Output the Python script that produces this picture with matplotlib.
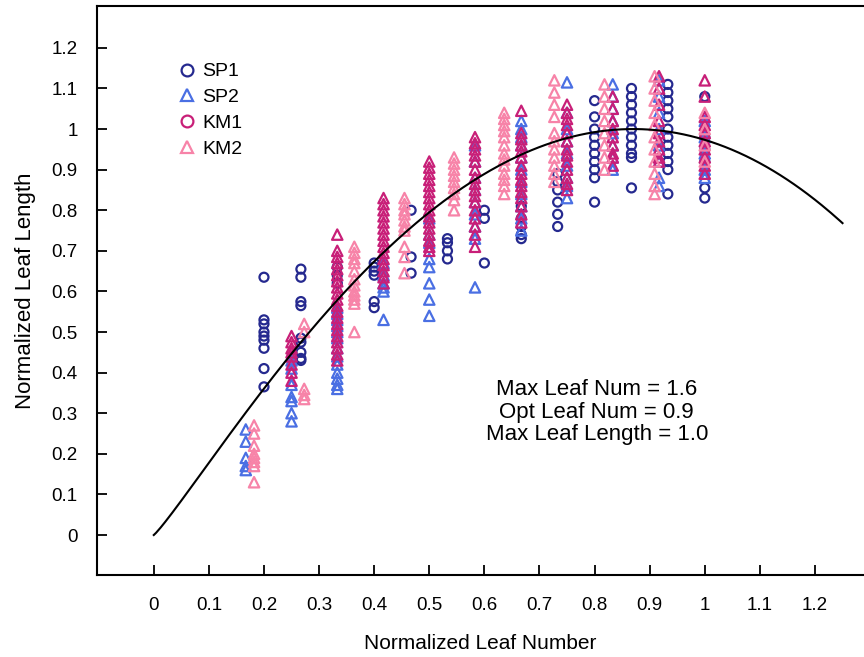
import numpy as np
import matplotlib
matplotlib.use('Agg')
import matplotlib.pyplot as plt
from matplotlib.lines import Line2D

plt.rcParams['font.family'] = ['Liberation Sans', 'DejaVu Sans']

# 各组叶位（归一化叶数）与对应的归一化叶长
sp1_x = [0.2, 0.267, 0.333, 0.4, 0.467, 0.533, 0.6, 0.667, 0.733, 0.8, 0.867, 0.933, 1.0]
sp1_y = [
    [0.635, 0.53, 0.52, 0.50, 0.49, 0.48, 0.46, 0.41, 0.365],
    [0.655, 0.635, 0.575, 0.565, 0.485, 0.475, 0.45, 0.435, 0.43],
    [0.66, 0.64, 0.62, 0.55],
    [0.67, 0.66, 0.65, 0.64, 0.575, 0.56],
    [0.80, 0.685, 0.645],
    [0.73, 0.72, 0.70, 0.68],
    [0.80, 0.78, 0.67],
    [0.81, 0.78, 0.76, 0.74, 0.73],
    [0.89, 0.87, 0.85, 0.82, 0.79, 0.76],
    [1.07, 1.03, 1.0, 0.98, 0.96, 0.94, 0.92, 0.90, 0.88, 0.82],
    [1.10, 1.08, 1.06, 1.04, 1.02, 1.0, 0.98, 0.96, 0.94, 0.93, 0.855],
    [1.11, 1.09, 1.07, 1.05, 1.03, 1.0, 0.98, 0.96, 0.94, 0.92, 0.90, 0.84],
    [1.08, 0.98, 0.95, 0.92, 0.855, 0.83],
]

sp2_x = [0.167, 0.25, 0.333, 0.417, 0.5, 0.583, 0.667, 0.75, 0.833, 0.917, 1.0]
sp2_y = [
    [0.26, 0.23, 0.19, 0.17, 0.16],
    [0.43, 0.41, 0.37, 0.34, 0.33, 0.30, 0.28],
    [0.56, 0.545, 0.53, 0.515, 0.50, 0.485, 0.46, 0.44, 0.42, 0.40, 0.385, 0.37, 0.36],
    [0.67, 0.64, 0.62, 0.61, 0.60, 0.53],
    [0.78, 0.74, 0.72, 0.68, 0.66, 0.62, 0.58, 0.54],
    [0.96, 0.92, 0.88, 0.85, 0.82, 0.79, 0.76, 0.73, 0.61],
    [1.02, 1.0, 0.98, 0.96, 0.93, 0.90, 0.87, 0.84, 0.81, 0.78, 0.75],
    [1.115, 1.04, 1.0, 0.97, 0.94, 0.91, 0.88, 0.86, 0.83],
    [1.11, 1.08, 1.05, 1.02, 0.99, 0.96, 0.93, 0.90],
    [1.12, 1.08, 1.04, 1.0, 0.96, 0.92, 0.88, 0.86],
    [1.02, 0.98, 0.94, 0.90, 0.88],
]

km1_x = [0.25, 0.333, 0.417, 0.5, 0.583, 0.667, 0.75, 0.833, 0.917, 1.0]
km1_y = [
    [0.49, 0.475, 0.46, 0.45, 0.44, 0.42, 0.40, 0.38],
    [0.74, 0.70, 0.685, 0.67, 0.655, 0.64, 0.625, 0.61, 0.595, 0.58, 0.565, 0.55, 0.535,
     0.52, 0.505, 0.49, 0.475, 0.46, 0.445, 0.43],
    [0.83, 0.815, 0.80, 0.785, 0.77, 0.755, 0.74, 0.725, 0.71, 0.695, 0.68, 0.665, 0.65, 0.635, 0.62],
    [0.92, 0.905, 0.89, 0.875, 0.86, 0.845, 0.83, 0.815, 0.80, 0.785, 0.77, 0.755, 0.74, 0.725, 0.71, 0.70],
    [0.98, 0.965, 0.95, 0.935, 0.92, 0.90, 0.88, 0.865, 0.85, 0.835, 0.82, 0.80, 0.78, 0.76, 0.74, 0.71],
    [1.045, 0.99, 0.975, 0.96, 0.945, 0.93, 0.91, 0.89, 0.875, 0.86, 0.845, 0.83, 0.81, 0.79, 0.77],
    [1.06, 1.04, 1.025, 1.01, 0.99, 0.97, 0.95, 0.935, 0.92, 0.90, 0.88, 0.865, 0.85],
    [1.08, 1.05, 1.02, 1.0, 0.98, 0.96, 0.94, 0.93, 0.91],
    [1.13, 1.10, 1.06, 1.02, 0.99, 0.97, 0.95, 0.93, 0.92],
    [1.12, 1.08, 1.03, 1.01, 0.99, 0.97, 0.95, 0.93, 0.91, 0.89],
]

km2_x = [0.182, 0.273, 0.364, 0.455, 0.545, 0.636, 0.727, 0.818, 0.909, 1.0]
km2_y = [
    [0.27, 0.25, 0.22, 0.20, 0.19, 0.18, 0.17, 0.13],
    [0.52, 0.50, 0.36, 0.345, 0.335],
    [0.71, 0.695, 0.68, 0.67, 0.65, 0.63, 0.615, 0.60, 0.59, 0.58, 0.57, 0.50],
    [0.83, 0.815, 0.80, 0.79, 0.775, 0.76, 0.75, 0.71, 0.685, 0.645],
    [0.93, 0.915, 0.90, 0.885, 0.87, 0.855, 0.84, 0.825, 0.80],
    [1.04, 1.025, 1.01, 0.995, 0.98, 0.96, 0.94, 0.925, 0.91, 0.89, 0.875, 0.86, 0.84],
    [1.12, 1.09, 1.06, 1.03, 0.99, 0.97, 0.95, 0.93, 0.91, 0.89, 0.87],
    [1.11, 1.08, 1.05, 1.02, 0.99, 0.96, 0.93, 0.90],
    [1.13, 1.10, 1.07, 1.04, 1.01, 0.98, 0.95, 0.92, 0.89, 0.86, 0.84],
    [1.04, 1.0, 0.96, 0.92],
]

# 拟合曲线参数（beta 函数）
curve_lmax = 1.65
curve_lopt = 0.87
curve_ymax = 1.0

xticks = [0, 0.1, 0.2, 0.3, 0.4, 0.5, 0.6, 0.7, 0.8, 0.9, 1.0, 1.1, 1.2]
xtick_labels = ['0', '0.1', '0.2', '0.3', '0.4', '0.5', '0.6', '0.7', '0.8', '0.9', '1', '1.1', '1.2']
yticks = [0, 0.1, 0.2, 0.3, 0.4, 0.5, 0.6, 0.7, 0.8, 0.9, 1.0, 1.1, 1.2]
ytick_labels = ['0', '0.1', '0.2', '0.3', '0.4', '0.5', '0.6', '0.7', '0.8', '0.9', '1', '1.1', '1.2']

c_sp1 = '#25298f'
c_sp2 = '#4a6fe3'
c_km1 = '#c81f78'
c_km2 = '#f783a8'


def flatten(xs, ys):
    px, py = [], []
    for x, col in zip(xs, ys):
        px += [x] * len(col)
        py += col
    return px, py


fig = plt.figure(figsize=(8.64, 6.57), dpi=100)
ax = fig.add_axes([0.1123, 0.1248, 0.8877, 0.866])

# (x, y, 图中标记, 图例标记, 颜色, 名称, 大小)
series = [
    (sp1_x, sp1_y, 'o', 'o', c_sp1, 'SP1', 42),
    (sp2_x, sp2_y, '^', '^', c_sp2, 'SP2', 56),
    (km1_x, km1_y, '^', 'o', c_km1, 'KM1', 56),
    (km2_x, km2_y, '^', '^', c_km2, 'KM2', 56),
]
for xs, ys, m, lm, c, lab, s in series:
    px, py = flatten(xs, ys)
    ax.scatter(px, py, s=s, marker=m, facecolors='none', edgecolors=c, linewidths=1.6, zorder=2)

L = np.linspace(0, 1.25, 300)
yc = curve_ymax * ((curve_lmax - L) / (curve_lmax - curve_lopt)) * \
    (L / curve_lopt) ** (curve_lopt / (curve_lmax - curve_lopt))
ax.plot(L, yc, color='black', lw=1.5, zorder=3)

handles = [Line2D([], [], ls='none', marker=lm, markersize=8.5, markerfacecolor='none',
                  markeredgecolor=c, markeredgewidth=1.6, label=lab)
           for xs, ys, m, lm, c, lab, s in series]
ax.legend(handles=handles, loc='upper left', bbox_to_anchor=(0.093, 0.914), frameon=False,
          fontsize=14, handletextpad=0.25, labelspacing=0.42, borderaxespad=0, handlelength=1.1)

ax.text(0.804, 0.303, 'Max Leaf Num = 1.6\nOpt Leaf Num = 0.9\nMax Leaf Length = 1.0',
        ha='center', va='center', fontsize=16, linespacing=1.07)

ax.set_xlim(-0.103, 1.289)
ax.set_ylim(-0.0985, 1.303)
ax.set_xticks(xticks)
ax.set_xticklabels(xtick_labels)
ax.set_yticks(yticks)
ax.set_yticklabels(ytick_labels)
ax.tick_params(direction='in', length=7, width=1.3, labelsize=13.5)
ax.tick_params(axis='x', pad=16)
ax.tick_params(axis='y', pad=14)
ax.spines['right'].set_visible(False)
for sp in ['left', 'bottom', 'top']:
    ax.spines[sp].set_linewidth(1.5)

ax.set_xlabel('Normalized Leaf Number', fontsize=15, labelpad=14)
ax.set_ylabel('Normalized Leaf Length', fontsize=16, labelpad=11)

plt.savefig('out.png', dpi=100)
plt.close()
